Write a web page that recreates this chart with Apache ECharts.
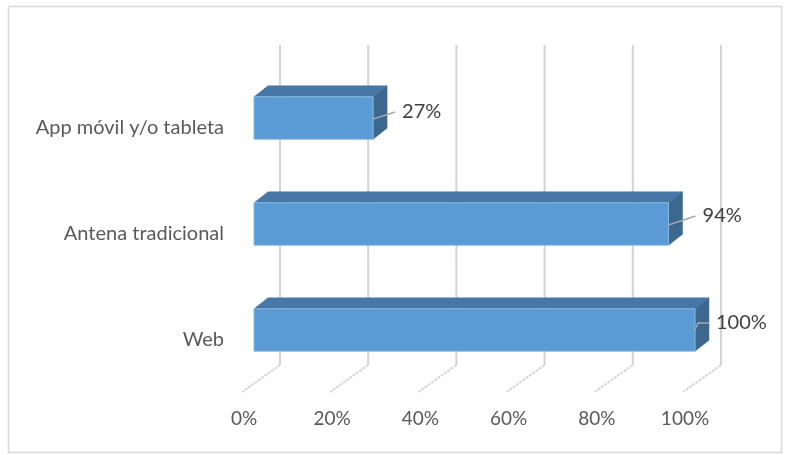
<!DOCTYPE html>
<html>
<head>
<meta charset="utf-8">
<script src="https://cdn.jsdelivr.net/npm/echarts@6/dist/echarts.min.js"></script>
<style>
html,body{margin:0;padding:0;background:#fff;}
#chart{width:787px;height:455px;}
</style>
</head>
<body>
<div id="chart"></div>
<script>
const categories = ['App móvil y/o tableta', 'Antena tradicional', 'Web'];
const values = [27, 94, 100];
const valueLabels = ['27%', '94%', '100%'];
const tickValues = [0, 20, 40, 60, 80, 100];

const FONT = 'Lato, "Liberation Sans", sans-serif';
const chart = echarts.init(document.getElementById('chart'));

// style-only helpers (pixel offsets for the pseudo-3D look)
const DEPTH_X = 14, DEPTH_Y = -11;   // bar depth
const BACK_X = 26;                   // back wall offset from front plane
const FLOOR_X = -12;                 // floor front offset
const labelDx = [29, 34, 21];
const labelDy = [-6, -8, -7];

option = {
  animation: false,
  backgroundColor: '#ffffff',
  graphic: [{
    type: 'rect',
    shape: {x: 8.5, y: 6.5, width: 773, height: 446},
    style: {fill: 'none', stroke: '#d9d9d9', lineWidth: 1.5},
    z: 0
  }],
  grid: {left: 254, top: 65, width: 441, height: 318},
  xAxis: {
    type: 'value', min: 0, max: 100, interval: 20,
    axisLine: {show: false}, axisTick: {show: false}, splitLine: {show: false},
    axisLabel: {
      formatter: v => v + '%',
      color: '#595959', fontFamily: FONT, fontSize: 19,
      margin: 26, padding: [0, 20, 0, 0]
    }
  },
  yAxis: {
    type: 'category', data: categories, inverse: true,
    axisLine: {show: false}, axisTick: {show: false}, splitLine: {show: false},
    axisLabel: {
      color: '#595959', fontFamily: FONT, fontSize: 20,
      margin: 30, verticalAlign: 'top'
    }
  },
  series: [
    {
      type: 'custom',
      z: 1,
      silent: true,
      data: tickValues.map(v => [v, 0]),
      renderItem: function (params, api) {
        const cs = params.coordSys;
        const x = api.coord([api.value(0), 0])[0];
        const top = cs.y - 20, bot = cs.y + cs.height - 18, floor = cs.y + cs.height + 9;
        return {
          type: 'group',
          children: [
            {type: 'line', shape: {x1: x + BACK_X, y1: top, x2: x + BACK_X, y2: bot},
             style: {stroke: '#d3d3d3', lineWidth: 2}},
            {type: 'line', shape: {x1: x + BACK_X, y1: bot, x2: x + FLOOR_X, y2: floor},
             style: {stroke: '#d6d6d6', lineWidth: 2, lineDash: [3, 1]}}
          ]
        };
      }
    },
    {
      type: 'custom',
      z: 2,
      data: values.map((v, i) => [v, i]),
      renderItem: function (params, api) {
        const i = api.value(1);
        const v = api.value(0);
        const p0 = api.coord([0, i]);
        const p1 = api.coord([v, i]);
        const h = api.size([0, 1])[1] * 0.4;
        const x0 = p0[0], x1 = p1[0];
        const yt = p0[1] - h / 2, yb = p0[1] + h / 2;
        const cy = p0[1];
        const idx = params.dataIndex;
        const lx = x1 + labelDx[idx], ly = cy + labelDy[idx];
        let leader;
        if (idx === 2) {
          leader = [[x1, cy], [x1 + 3, ly], [lx - 7, ly]];
        } else {
          leader = [[x1, cy + 1], [lx - 7, ly]];
        }
        return {
          type: 'group',
          children: [
            {type: 'polygon', shape: {points: [[x0, yt], [x1, yt], [x1 + DEPTH_X, yt + DEPTH_Y], [x0 + DEPTH_X, yt + DEPTH_Y]]},
             style: {fill: '#4677a6', stroke: '#4677a6', lineWidth: 0.5}},
            {type: 'polygon', shape: {points: [[x1, yt], [x1 + DEPTH_X, yt + DEPTH_Y], [x1 + DEPTH_X, yb + DEPTH_Y], [x1, yb]]},
             style: {fill: '#3c6890', stroke: '#3c6890', lineWidth: 0.5}},
            {type: 'rect', shape: {x: x0, y: yt, width: x1 - x0, height: h},
             style: {fill: '#5b9bd5', stroke: '#8ab8e2', lineWidth: 1}},
            {type: 'polyline', shape: {points: leader},
             style: {stroke: '#a6a6a6', lineWidth: 1.5, fill: null}},
            {type: 'text', x: lx, y: ly,
             style: {text: valueLabels[idx], fill: '#404040', font: '20px ' + FONT,
                     align: 'left', verticalAlign: 'middle'}}
          ]
        };
      }
    }
  ]
};
chart.setOption(option);
</script>
</body>
</html>
